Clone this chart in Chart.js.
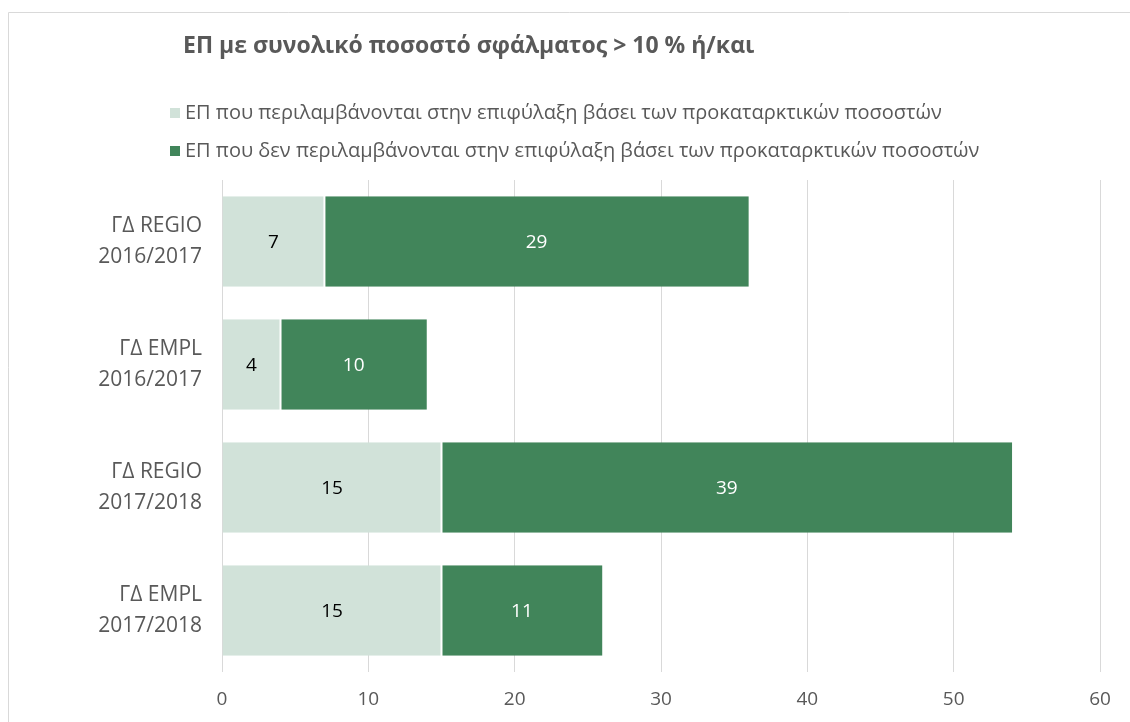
<!DOCTYPE html>
<html>
<head>
<meta charset="utf-8">
<script src="https://cdn.jsdelivr.net/npm/chart.js@4"></script>
<style>
    html, body { margin: 0; padding: 0; background: #ffffff; }
    #wrap { width: 1130px; height: 722px; position: relative; }
</style>
</head>
<body>
<div id="wrap"><canvas id="chartEP"></canvas></div>
<script>
const chartTitle = 'ΕΠ με συνολικό ποσοστό σφάλματος > 10 % ή/και';
const categories = [
    ['ΓΔ REGIO', '2016/2017'],
    ['ΓΔ EMPL', '2016/2017'],
    ['ΓΔ REGIO', '2017/2018'],
    ['ΓΔ EMPL', '2017/2018']
];
const seriesNames = [
    'ΕΠ που περιλαμβάνονται στην επιφύλαξη βάσει των προκαταρκτικών ποσοστών',
    'ΕΠ που δεν περιλαμβάνονται στην επιφύλαξη βάσει των προκαταρκτικών ποσοστών'
];
const included = [7, 4, 15, 15];
const notIncluded = [29, 10, 39, 11];
const xTicks = [0, 10, 20, 30, 40, 50, 60];

const colLight = '#d1e2d9';
const colDark = '#41855a';
const textGrey = '#595959';
const fontFamily = '"Open Sans", sans-serif';

// frame, title and legend drawn above the plot
const headerPlugin = {
    id: 'header',
    beforeDraw(chart) {
        const c = chart.ctx;
        c.save();
        c.strokeStyle = '#d9d9d9';
        c.lineWidth = 1;
        c.beginPath();
        c.moveTo(8.5, 722);
        c.lineTo(8.5, 12.5);
        c.lineTo(1130, 12.5);
        c.stroke();
        c.restore();
    },
    afterDraw(chart) {
        const c = chart.ctx;
        c.save();
        c.fillStyle = textGrey;
        c.textBaseline = 'middle';
        c.font = 'bold 23px ' + fontFamily;
        c.fillText(chartTitle, 183, 46);
        const colors = [colLight, colDark];
        const rows = [113, 151];
        c.font = '20px ' + fontFamily;
        seriesNames.forEach((name, i) => {
            c.fillStyle = colors[i];
            c.fillRect(170, rows[i] - 5, 10, 10);
            c.fillStyle = textGrey;
            c.fillText(name, 185, rows[i]);
        });
        c.restore();
    }
};

// value labels centred in each segment
const valuePlugin = {
    id: 'values',
    afterDatasetsDraw(chart) {
        const c = chart.ctx;
        c.save();
        c.font = '19px ' + fontFamily;
        c.textAlign = 'center';
        c.textBaseline = 'middle';
        chart.data.datasets.forEach((ds, i) => {
            const meta = chart.getDatasetMeta(i);
            meta.data.forEach((bar, j) => {
                const p = bar.getProps(['x', 'y', 'base'], true);
                c.fillStyle = i === 0 ? '#000000' : '#ffffff';
                c.fillText(String(ds.data[j]), (p.x + p.base) / 2, p.y + 1);
            });
        });
        c.restore();
    }
};

new Chart(document.getElementById('chartEP'), {
    type: 'bar',
    data: {
        labels: categories,
        datasets: [
            {
                label: seriesNames[0],
                data: included,
                backgroundColor: colLight,
                borderColor: '#ffffff',
                borderWidth: { left: 0, right: 1, top: 0, bottom: 0 },
                borderSkipped: false
            },
            {
                label: seriesNames[1],
                data: notIncluded,
                backgroundColor: colDark,
                borderColor: '#ffffff',
                borderWidth: { left: 1, right: 0, top: 0, bottom: 0 },
                borderSkipped: false
            }
        ]
    },
    options: {
        indexAxis: 'y',
        responsive: true,
        maintainAspectRatio: false,
        animation: false,
        layout: {
            padding: { top: 180, right: 30, bottom: 0, left: 0 }
        },
        datasets: {
            bar: {
                barPercentage: 0.735,
                categoryPercentage: 1
            }
        },
        plugins: {
            legend: { display: false },
            title: { display: false },
            tooltip: { enabled: false }
        },
        scales: {
            x: {
                stacked: true,
                min: 0,
                max: 60,
                afterBuildTicks(scale) {
                    scale.ticks = xTicks.map(v => ({ value: v }));
                },
                afterFit(scale) {
                    scale.height = 50;
                },
                border: { display: false },
                grid: {
                    color: '#d9d9d9',
                    lineWidth: 1,
                    drawTicks: false
                },
                ticks: {
                    padding: 16,
                    color: textGrey,
                    font: { size: 19, family: fontFamily }
                }
            },
            y: {
                stacked: true,
                afterFit(scale) {
                    scale.width = 222;
                },
                border: { display: false },
                grid: { display: false },
                ticks: {
                    padding: 12,
                    color: textGrey,
                    font: { size: 21, family: fontFamily, lineHeight: 1.45 }
                }
            }
        }
    },
    plugins: [headerPlugin, valuePlugin]
});
</script>
</body>
</html>
